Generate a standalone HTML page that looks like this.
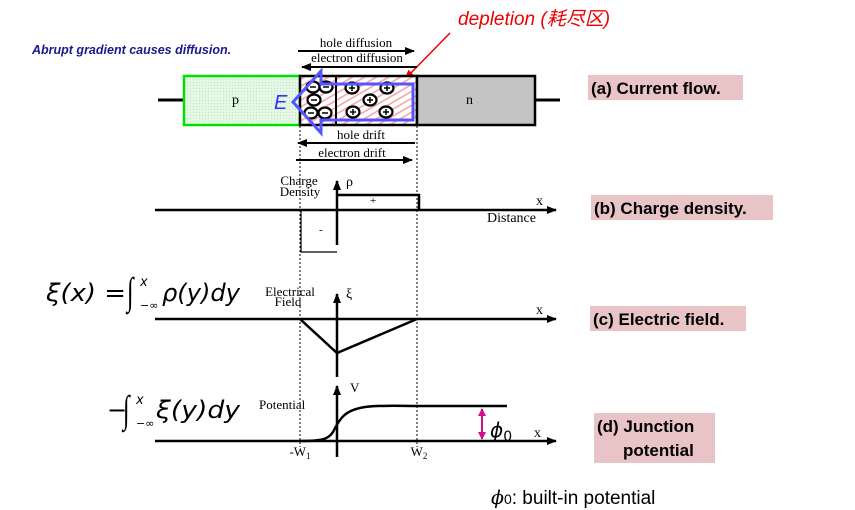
<!DOCTYPE html>
<html><head><meta charset="utf-8"><style>
body{margin:0;background:#fff;}
svg{display:block;font-family:"Liberation Serif",serif;}
.lbl{font-family:"Liberation Sans",sans-serif;font-weight:bold;font-size:17px;fill:#000;}
</style></head><body>
<svg width="855" height="510" viewBox="0 0 855 510">
<defs>
<marker id="ah" markerWidth="10" markerHeight="8" refX="9" refY="4" orient="auto" markerUnits="userSpaceOnUse"><path d="M0,0 L10,4 L0,8 z" fill="#000"/></marker>
<marker id="ahr" markerWidth="10" markerHeight="8" refX="9" refY="4" orient="auto" markerUnits="userSpaceOnUse"><path d="M0,0 L10,4 L0,8 z" fill="#e00"/></marker>
<marker id="ahm" markerWidth="8" markerHeight="8" refX="7" refY="4" orient="auto-start-reverse" markerUnits="userSpaceOnUse"><path d="M0,0 L8,4 L0,8 z" fill="#d0108a"/></marker>
<pattern id="hatch" width="6" height="6" patternUnits="userSpaceOnUse" patternTransform="rotate(-30)"><rect width="6" height="6" fill="#fff"/><line x1="0" y1="3" x2="6" y2="3" stroke="#f4a0a0" stroke-width="1.5"/></pattern>
<pattern id="dots" width="3" height="3" patternUnits="userSpaceOnUse"><rect width="3" height="3" fill="#e6f8e6"/><circle cx="1.5" cy="1.5" r="0.6" fill="#bfe6bf"/></pattern>
</defs>

<text x="32" y="54" font-family="Liberation Sans, sans-serif" font-weight="bold" font-style="italic" font-size="12.5" fill="#1a1a8c">Abrupt gradient causes diffusion.</text>
<text x="458" y="25" font-family="Liberation Sans, Noto Sans CJK SC, sans-serif" font-style="italic" font-size="19" fill="#e00">depletion (耗尽区)</text>
<line x1="450" y1="33" x2="405" y2="79" stroke="#e00" stroke-width="1.5" marker-end="url(#ahr)"/>

<line x1="300" y1="126" x2="300" y2="447" stroke="#000" stroke-width="1" stroke-dasharray="2,2"/>
<line x1="417" y1="126" x2="417" y2="447" stroke="#000" stroke-width="1" stroke-dasharray="2,2"/>

<line x1="158" y1="100" x2="184" y2="100" stroke="#000" stroke-width="3"/>
<line x1="535" y1="100" x2="560" y2="100" stroke="#000" stroke-width="3"/>
<rect x="184" y="76" width="116" height="49" fill="url(#dots)" stroke="#00e000" stroke-width="2.5"/>
<text x="232" y="104" font-size="14">p</text>
<rect x="300" y="76" width="117" height="49" fill="url(#hatch)" stroke="#000" stroke-width="2.5"/>
<line x1="336" y1="76" x2="336" y2="125" stroke="#000" stroke-width="2"/>
<rect x="417" y="76" width="118" height="49" fill="#c4c4c4" stroke="#000" stroke-width="2.5"/>
<text x="466" y="104" font-size="14">n</text>
<g stroke="#000" stroke-width="2.2" fill="#fff">
<ellipse cx="313" cy="87" rx="6.5" ry="5.5"/><ellipse cx="326" cy="87" rx="6.5" ry="5.5"/><ellipse cx="314" cy="100" rx="6.5" ry="5.5"/><ellipse cx="311" cy="113" rx="6.5" ry="5.5"/><ellipse cx="325" cy="113" rx="6.5" ry="5.5"/>
<ellipse cx="352" cy="88" rx="6.5" ry="5.5"/><ellipse cx="387" cy="88" rx="6.5" ry="5.5"/><ellipse cx="370" cy="100" rx="6.5" ry="5.5"/><ellipse cx="353" cy="112" rx="6.5" ry="5.5"/><ellipse cx="386" cy="112" rx="6.5" ry="5.5"/>
</g>
<g stroke="#000" stroke-width="1.5">
<path d="M310,87h6M323,87h6M311,100h6M308,113h6M322,113h6"/>
<path d="M349,88h6M352,85v6M384,88h6M387,85v6M367,100h6M370,97v6M350,112h6M353,109v6M383,112h6M386,109v6"/>
</g>
<path d="M293,102 L321,71 L321,84 L413,84 L413,120 L321,120 L321,133 Z" fill="none" stroke="#5555ff" stroke-width="3"/>
<text x="274" y="109" font-family="Liberation Sans, sans-serif" font-style="italic" font-size="20" fill="#3333ff">E</text>

<text x="356" y="47" font-size="13" text-anchor="middle">hole diffusion</text>
<line x1="298" y1="51" x2="414" y2="51" stroke="#000" stroke-width="2" marker-end="url(#ah)"/>
<text x="357" y="62" font-size="13" text-anchor="middle">electron diffusion</text>
<line x1="417" y1="67" x2="302" y2="67" stroke="#000" stroke-width="2" marker-end="url(#ah)"/>
<text x="361" y="139" font-size="13" text-anchor="middle">hole drift</text>
<line x1="415" y1="143" x2="298" y2="143" stroke="#000" stroke-width="2" marker-end="url(#ah)"/>
<text x="352" y="157" font-size="13" text-anchor="middle">electron drift</text>
<line x1="296" y1="160" x2="412" y2="160" stroke="#000" stroke-width="2" marker-end="url(#ah)"/>

<line x1="155" y1="210" x2="556" y2="210" stroke="#000" stroke-width="2.5" marker-end="url(#ah)"/>
<line x1="337" y1="245" x2="337" y2="181" stroke="#000" stroke-width="2.5" marker-end="url(#ah)"/>
<path d="M301,210 V252 H337" fill="none" stroke="#000" stroke-width="1.2"/>
<path d="M337,195 H419 V210" fill="none" stroke="#000" stroke-width="2.5"/>
<text x="299" y="185" font-size="13" text-anchor="middle">Charge</text>
<text x="300" y="196" font-size="13" text-anchor="middle">Density</text>
<text x="346" y="186" font-size="14">ρ</text>
<text x="370" y="204" font-size="11">+</text>
<text x="319" y="233" font-size="11">-</text>
<text x="536" y="205" font-size="14">x</text>
<text x="487" y="222" font-size="14">Distance</text>

<line x1="155" y1="319" x2="556" y2="319" stroke="#000" stroke-width="2.5" marker-end="url(#ah)"/>
<line x1="337" y1="377" x2="337" y2="294" stroke="#000" stroke-width="2.5" marker-end="url(#ah)"/>
<path d="M300,319 L337,353 L417,319" fill="none" stroke="#000" stroke-width="2.5"/>
<text x="290" y="296" font-size="13" text-anchor="middle">Electrical</text>
<text x="288" y="306" font-size="13" text-anchor="middle">Field</text>
<text x="346" y="298" font-size="14">ξ</text>
<text x="536" y="314" font-size="14">x</text>
<g font-family="DejaVu Sans, sans-serif">
<text x="46" y="301" font-size="24" textLength="80" lengthAdjust="spacingAndGlyphs" font-style="italic">ξ(x) =</text>
<text transform="translate(127,304) scale(1,1.6)" font-family="Liberation Serif, serif" font-size="24">∫</text>
<text x="140" y="286" font-size="13" font-style="italic">x</text>
<text x="140" y="309" font-size="11">−∞</text>
<text x="162" y="301" font-size="24" font-style="italic" textLength="78" lengthAdjust="spacingAndGlyphs">ρ(y)dy</text>
</g>

<line x1="155" y1="441" x2="556" y2="441" stroke="#000" stroke-width="2.5" marker-end="url(#ah)"/>
<line x1="337" y1="457" x2="337" y2="386" stroke="#000" stroke-width="2.5" marker-end="url(#ah)"/>
<path d="M300,441 C320,441 328,440 333,432 C340,418 345,410 365,407 C380,405 400,406 417,406 H507" fill="none" stroke="#000" stroke-width="2.5"/>
<line x1="482" y1="409" x2="482" y2="439" stroke="#d0108a" stroke-width="2" marker-start="url(#ahm)" marker-end="url(#ahm)"/>
<text x="490" y="437" font-family="DejaVu Sans, sans-serif" font-style="italic" font-size="20">ϕ<tspan font-size="14" dy="4" font-style="normal">0</tspan></text>
<text x="350" y="392" font-size="13">V</text>
<text x="259" y="409" font-size="13">Potential</text>
<text x="534" y="437" font-size="14">x</text>
<text x="300" y="456" font-size="13" text-anchor="middle">-W<tspan font-size="9" dy="3">1</tspan></text>
<text x="419" y="456" font-size="13" text-anchor="middle">W<tspan font-size="9" dy="3">2</tspan></text>
<g font-family="DejaVu Sans, sans-serif">
<text x="107" y="418" font-size="24">−</text>
<text transform="translate(123,422) scale(1,1.6)" font-family="Liberation Serif, serif" font-size="24">∫</text>
<text x="136" y="404" font-size="13" font-style="italic">x</text>
<text x="136" y="427" font-size="11">−∞</text>
<text x="156" y="418" font-size="24" font-style="italic" textLength="84" lengthAdjust="spacingAndGlyphs">ξ(y)dy</text>
</g>

<rect x="588" y="75" width="155" height="25" fill="#e9c4c6"/>
<text x="591" y="94" class="lbl">(a) Current flow.</text>
<rect x="591" y="195" width="182" height="25" fill="#e9c4c6"/>
<text x="594" y="214" class="lbl">(b) Charge density.</text>
<rect x="590" y="306" width="156" height="25" fill="#e9c4c6"/>
<text x="593" y="325" class="lbl">(c) Electric field.</text>
<rect x="594" y="413" width="121" height="50" fill="#e9c4c6"/>
<text x="597" y="432" class="lbl">(d) Junction</text>
<text x="623" y="456" class="lbl">potential</text>

<text x="491" y="504" font-family="Liberation Sans, sans-serif" font-size="19"><tspan font-family="DejaVu Serif, serif" font-style="italic">ϕ</tspan><tspan font-size="14">0</tspan>: built-in potential</text>
</svg>
</body></html>
